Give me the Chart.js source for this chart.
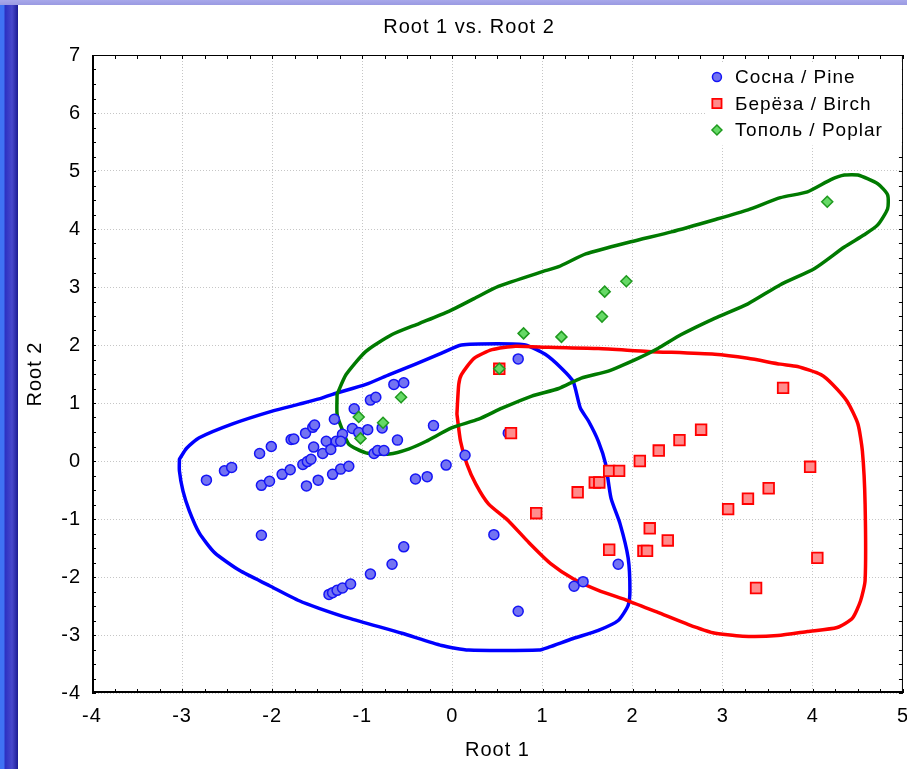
<!DOCTYPE html>
<html>
<head>
<meta charset="utf-8">
<title>Root 1 vs. Root 2</title>
<script src="https://cdn.jsdelivr.net/npm/chart.js@4.4.1/dist/chart.umd.min.js"></script>
<style>
  html, body { margin: 0; padding: 0; width: 907px; height: 769px; overflow: hidden; }
  body {
    position: relative;
    background:
      linear-gradient(to bottom, #a8a8ea 0, #9a9ae2 5px, transparent 5px),
      linear-gradient(to right, #3f72f4 0, #3f72f4 4px, #2b30c2 5px, #4848cc 12px, #23239e 17px, #1c1c8c 18px, #fff 18px);
  }
  #panel { position: absolute; left: 18px; top: 5px; width: 889px; height: 764px; background: #fff; overflow: hidden; }
  #chart { position: absolute; left: 0; top: 0; }
</style>
</head>
<body>
<div id="panel"><canvas id="chart" width="902" height="764"></canvas></div>
<script>
// ── Data ──────────────────────────────────────────────────────────────────────
const xTickValues = [-4, -3, -2, -1, 0, 1, 2, 3, 4, 5];
const yTickValues = [-4, -3, -2, -1, 0, 1, 2, 3, 4, 5, 6, 7];

// Canonical scores [root1, root2]
const pinePoints = [
  [-2.73, -0.33], [-2.53, -0.17], [-2.45, -0.11], [-2.14, 0.13], [-2.01, 0.25],
  [-2.12, -0.42], [-2.03, -0.35], [-1.89, -0.23], [-1.80, -0.15], [-1.79, 0.37],
  [-1.76, 0.38], [-1.63, 0.48], [-1.55, 0.58], [-1.53, 0.62], [-1.54, 0.24],
  [-1.66, -0.06], [-1.61, -0.01], [-1.57, 0.03], [-1.62, -0.43], [-1.49, -0.33],
  [-1.40, 0.34], [-1.29, 0.34], [-1.22, 0.46], [-1.24, 0.34], [-1.44, 0.13],
  [-1.35, 0.20], [-1.33, -0.23], [-1.24, -0.14], [-1.15, -0.09], [-1.31, 0.72],
  [-1.09, 0.90], [-0.91, 1.05], [-0.85, 1.10], [-0.65, 1.32], [-0.54, 1.35],
  [-1.11, 0.56], [-1.04, 0.49], [-0.94, 0.54], [-0.78, 0.57], [-0.61, 0.36],
  [-0.87, 0.13], [-0.83, 0.18], [-0.76, 0.18], [-0.21, 0.61], [-0.41, -0.31],
  [-0.28, -0.27], [-0.07, -0.07], [0.14, 0.10], [-1.37, -2.30], [-1.33, -2.27],
  [-1.28, -2.23], [-1.22, -2.19], [-1.13, -2.12], [-0.91, -1.95], [-0.67, -1.78],
  [-0.54, -1.48], [0.46, -1.27], [0.73, -2.59], [0.73, 1.76], [0.62, 0.48],
  [1.84, -1.78], [1.35, -2.16], [1.45, -2.08], [-2.12, -1.28]
];
const birchPoints = [
  [0.52, 1.59], [0.65, 0.48], [1.74, -0.17], [1.85, -0.17], [1.58, -0.37],
  [1.63, -0.37], [1.39, -0.54], [0.93, -0.90], [2.08, 0.00], [2.29, 0.18],
  [2.19, -1.16], [2.39, -1.37], [1.74, -1.53], [2.12, -1.55], [2.16, -1.55],
  [2.52, 0.36], [2.76, 0.54], [3.67, 1.26], [3.97, -0.10], [3.51, -0.47],
  [3.28, -0.65], [3.06, -0.83], [4.05, -1.67], [3.37, -2.19]
];
const poplarPoints = [
  [0.52, 1.59], [0.79, 2.20], [1.21, 2.14], [1.66, 2.49], [1.69, 2.92],
  [1.93, 3.10], [4.16, 4.47], [-0.57, 1.10], [-1.04, 0.76], [-0.77, 0.66],
  [-1.02, 0.39]
];

// Hand-drawn group outlines
const pineContour = [
  [-3.03, 0.03], [-2.95, 0.22], [-2.81, 0.40], [-2.44, 0.64], [-2.00, 0.86], [-1.70, 0.98],
  [-1.48, 1.07], [-1.33, 1.15], [-0.96, 1.32], [-0.70, 1.49], [-0.41, 1.67], [-0.12, 1.86],
  [0.10, 2.00], [0.51, 2.02], [0.81, 2.00], [1.03, 1.84], [1.21, 1.60], [1.34, 1.37],
  [1.42, 0.91], [1.51, 0.69], [1.62, 0.34], [1.70, -0.05], [1.76, -0.64], [1.86, -1.08],
  [1.95, -1.67], [1.97, -2.23], [1.95, -2.49], [1.84, -2.75], [1.62, -2.92], [1.34, -3.06],
  [1.07, -3.21], [0.96, -3.26], [0.18, -3.26], [-0.12, -3.18], [-0.56, -2.97], [-1.15, -2.71],
  [-1.48, -2.54], [-1.70, -2.41], [-2.03, -2.15], [-2.36, -1.89], [-2.64, -1.58], [-2.81, -1.24],
  [-2.92, -0.86], [-2.99, -0.52], [-3.03, -0.17], [-3.03, 0.03]
];
const birchContour = [
  [0.05, 0.81], [0.07, 1.32], [0.10, 1.49], [0.24, 1.77], [0.44, 1.92], [0.70, 1.98],
  [1.07, 1.96], [1.62, 1.94], [2.17, 1.89], [2.91, 1.84], [3.28, 1.77], [3.64, 1.67],
  [3.83, 1.63], [4.09, 1.49], [4.22, 1.32], [4.38, 1.03], [4.50, 0.64], [4.55, 0.17],
  [4.58, -0.74], [4.58, -2.06], [4.53, -2.41], [4.44, -2.71], [4.27, -2.87], [3.94, -2.94],
  [3.61, -3.01], [3.22, -3.02], [2.89, -2.96], [2.62, -2.82], [2.28, -2.61], [1.95, -2.41],
  [1.62, -2.23], [1.34, -2.03], [1.09, -1.77], [0.85, -1.41], [0.62, -1.03], [0.40, -0.74],
  [0.26, -0.40], [0.16, -0.05], [0.09, 0.34], [0.05, 0.81]
];
const poplarContour = [
  [-1.28, 1.15], [-1.18, 1.49], [-0.96, 1.89], [-0.67, 2.18], [-0.37, 2.37], [-0.04, 2.58],
  [0.24, 2.80], [0.51, 3.01], [0.99, 3.26], [1.18, 3.35], [1.48, 3.57], [1.98, 3.78],
  [2.43, 3.95], [2.91, 4.16], [3.28, 4.33], [3.64, 4.54], [3.94, 4.64], [4.20, 4.85],
  [4.35, 4.93], [4.50, 4.93], [4.72, 4.78], [4.83, 4.59], [4.83, 4.35], [4.72, 4.07],
  [4.57, 3.90], [4.35, 3.69], [4.02, 3.32], [3.64, 3.04], [3.28, 2.71], [2.91, 2.46],
  [2.54, 2.18], [2.28, 1.94], [2.06, 1.77], [1.73, 1.55], [1.43, 1.43], [1.18, 1.25],
  [0.88, 1.12], [0.55, 0.91], [0.29, 0.72], [-0.01, 0.57], [-0.29, 0.34], [-0.48, 0.21],
  [-0.70, 0.12], [-0.96, 0.14], [-1.15, 0.29], [-1.23, 0.57], [-1.28, 0.81], [-1.28, 1.15]
];

// ── Helpers ───────────────────────────────────────────────────────────────────
const $ = id => document.getElementById(id);
const FONT = '"Liberation Sans", Arial, sans-serif';
const toXY = pts => pts.map(([x, y]) => ({ x, y }));

const groupSet = (label, pts, style, order) => Object.assign({
  label, data: toXY(pts), order, showLine: false, pointHoverRadius: 0
}, style);

const outlineSet = (pts, color, order) => ({
  label: '', data: toXY(pts), order, showLine: true,
  borderColor: color, borderWidth: 3.5, tension: 0.2,
  borderJoinStyle: 'round', borderCapStyle: 'round',
  pointRadius: 0, pointHoverRadius: 0, outline: true
});

// ── Plugins ───────────────────────────────────────────────────────────────────
// Slightly wider text spacing (set after the canvas is sized, since that resets ctx state)
const spacingPlugin = {
  id: 'spacing',
  beforeUpdate(chart) { chart.ctx.letterSpacing = '1px'; },
  beforeDraw(chart) { chart.ctx.letterSpacing = '1px'; }
};

// Plot frame with small inward ticks on all four sides
const framePlugin = {
  id: 'frame',
  afterDraw(chart) {
    const { ctx, chartArea: a, scales: { x, y } } = chart;
    ctx.save();
    ctx.strokeStyle = '#000';
    ctx.lineWidth = 1;
    ctx.beginPath();
    for (let i = 0; i <= (x.max - x.min) * 4; i++) {
      const px = Math.round(x.getPixelForValue(x.min + i / 4)) + 0.5;
      ctx.moveTo(px, a.bottom); ctx.lineTo(px, a.bottom - 4);
      ctx.moveTo(px, a.top); ctx.lineTo(px, a.top + 4);
    }
    for (let i = 0; i <= (y.max - y.min) * 4; i++) {
      const py = Math.round(y.getPixelForValue(y.min + i / 4)) + 0.5;
      ctx.moveTo(a.left, py); ctx.lineTo(a.left + 4, py);
      ctx.moveTo(a.right, py); ctx.lineTo(a.right - 4, py);
    }
    ctx.stroke();
    ctx.strokeRect(a.left + 0.5, a.top + 0.5, a.width - 1, a.height - 1);
    ctx.lineWidth = 2;
    ctx.beginPath();
    ctx.moveTo(a.left + 1, a.top); ctx.lineTo(a.left + 1, a.bottom - 1); ctx.lineTo(a.right, a.bottom - 1);
    ctx.stroke();
    ctx.restore();
  }
};

// Legend box in the upper right corner of the plot
const legendPlugin = {
  id: 'innerLegend',
  afterDraw(chart) {
    const { ctx, chartArea: a } = chart;
    const items = chart.data.datasets.filter(d => !d.outline);
    const boxW = 196, rowH = 26.5;
    const left = a.right - boxW - 1, top = a.top + 7;
    ctx.save();
    ctx.fillStyle = '#fff';
    ctx.fillRect(left, top, boxW, rowH * items.length + 4);
    ctx.font = '19px ' + FONT;
    ctx.letterSpacing = '1px';
    ctx.textBaseline = 'middle';
    items.forEach((d, i) => {
      const cy = top + 15 + i * rowH;
      ctx.fillStyle = d.pointBackgroundColor;
      ctx.strokeStyle = d.pointBorderColor;
      ctx.lineWidth = d.pointBorderWidth;
      Chart.helpers.drawPoint(ctx, {
        pointStyle: d.pointStyle, rotation: 0,
        radius: d.legendRadius, borderWidth: d.pointBorderWidth
      }, left + 11, cy);
      ctx.fillStyle = '#000';
      ctx.fillText(d.label, left + 29, cy + 1);
    });
    ctx.restore();
  }
};

// ── Chart ─────────────────────────────────────────────────────────────────────
const axisFont = { family: FONT, size: 20 };

new Chart($('chart'), {
  type: 'scatter',
  data: {
    datasets: [
      groupSet('Сосна / Pine', pinePoints, {
        pointStyle: 'circle', pointRadius: 5, legendRadius: 4.5,
        pointBackgroundColor: '#7373f2', pointBorderColor: '#1515f5', pointBorderWidth: 1.5
      }, 3),
      groupSet('Берёза / Birch', birchPoints, {
        pointStyle: 'rect', pointRadius: 7.5, legendRadius: 6.5,
        pointBackgroundColor: '#ff8c8c', pointBorderColor: '#ff0000', pointBorderWidth: 1.8
      }, 2),
      groupSet('Тополь / Poplar', poplarPoints, {
        pointStyle: 'rectRot', pointRadius: 5.5, legendRadius: 5,
        pointBackgroundColor: '#66d966', pointBorderColor: '#1f9a1f', pointBorderWidth: 1.5
      }, 1),
      outlineSet(poplarContour, '#007a00', 4),
      outlineSet(birchContour, '#ff0000', 5),
      outlineSet(pineContour, '#0000ff', 6)
    ]
  },
  options: {
    responsive: false,
    animation: false,
    events: [],
    layout: { padding: { top: 0, right: 0, bottom: 0, left: 0 } },
    plugins: {
      legend: { display: false },
      tooltip: { enabled: false },
      title: {
        display: true, text: 'Root 1 vs. Root 2', color: '#000',
        font: { family: FONT, size: 20, weight: 'normal' },
        padding: { top: 10, bottom: 16 }
      }
    },
    scales: {
      x: {
        type: 'linear', min: -4, max: 5,
        afterBuildTicks: s => { s.ticks = xTickValues.map(value => ({ value })); },
        afterFit: s => { s.height = 76; },
        grid: { color: '#c6c6c6', lineWidth: 1, drawTicks: false },
        border: { display: false, dash: [1, 2] },
        ticks: { color: '#000', font: axisFont, padding: 11, maxRotation: 0, callback: v => String(v) },
        title: { display: true, text: 'Root 1', color: '#000', font: axisFont, padding: { top: 0, bottom: 7 } }
      },
      y: {
        type: 'linear', min: -4, max: 7,
        afterBuildTicks: s => { s.ticks = yTickValues.map(value => ({ value })); },
        afterFit: s => { s.width = 74; },
        grid: { color: '#c6c6c6', lineWidth: 1, drawTicks: false },
        border: { display: false, dash: [1, 2] },
        ticks: { color: '#000', font: axisFont, padding: 11, callback: v => String(v) },
        title: { display: true, text: 'Root 2', color: '#000', font: axisFont, padding: { top: 5, bottom: 0 } }
      }
    }
  },
  plugins: [spacingPlugin, framePlugin, legendPlugin]
});
</script>
</body>
</html>
